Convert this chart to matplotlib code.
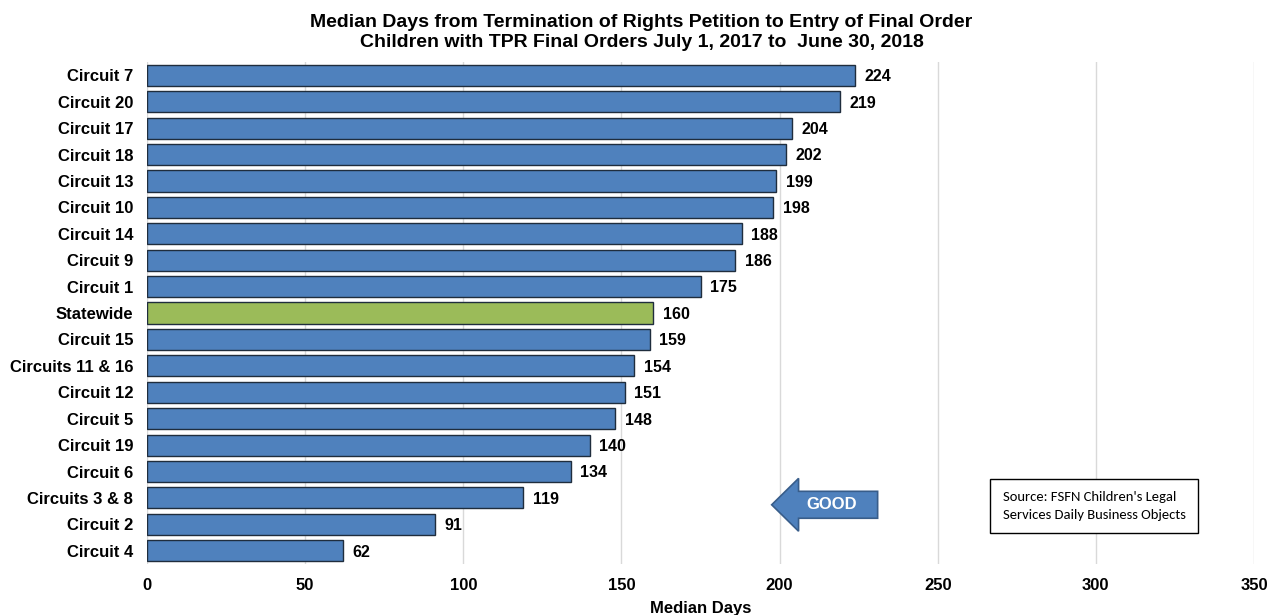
import matplotlib
matplotlib.use("Agg")
import matplotlib.pyplot as plt
from matplotlib.patches import FancyArrow

# data (top to bottom)
circuits = ['Circuit 7', 'Circuit 20', 'Circuit 17', 'Circuit 18', 'Circuit 13',
            'Circuit 10', 'Circuit 14', 'Circuit 9', 'Circuit 1', 'Statewide',
            'Circuit 15', 'Circuits 11 & 16', 'Circuit 12', 'Circuit 5', 'Circuit 19',
            'Circuit 6', 'Circuits 3 & 8', 'Circuit 2', 'Circuit 4']
median_days = [224, 219, 204, 202, 199, 198, 188, 186, 175, 160,
               159, 154, 151, 148, 140, 134, 119, 91, 62]

blue = '#4F81BD'
green = '#9BBB59'
colors = [green if c == 'Statewide' else blue for c in circuits]

plt.rcParams['font.family'] = ['Liberation Sans', 'DejaVu Sans']

fig = plt.figure(figsize=(12.83, 6.15), dpi=100)
ax = fig.add_axes([0.1146, 0.083, 0.8628, 0.816])

y = list(range(len(circuits)))
ax.barh(y, median_days, height=0.8, color=colors, edgecolor='#1F2D3D', linewidth=1.0, zorder=3)
for yi, v in zip(y, median_days):
    ax.text(v + 3, yi + 0.05, str(v), va='center', ha='left', fontsize=11.5, fontweight='bold')

ax.set_ylim(len(circuits) - 0.5, -0.5)
ax.set_xlim(0, 350)
ax.set_xticks(range(0, 351, 50))
ax.set_yticks(y)
ax.set_yticklabels(circuits, fontsize=12, fontweight='bold')
for lab in ax.get_xticklabels():
    lab.set_fontsize(12)
    lab.set_fontweight('bold')
ax.tick_params(axis='y', length=0, pad=10)
ax.tick_params(axis='x', length=0, pad=10)
ax.grid(axis='x', color='#D9D9D9', linewidth=1, zorder=0)
for s in ax.spines.values():
    s.set_visible(False)
ax.set_xlabel('Median Days', fontsize=12, fontweight='bold', labelpad=6)

fig.suptitle('Median Days from Termination of Rights Petition to Entry of Final Order\n'
             'Children with TPR Final Orders July 1, 2017 to  June 30, 2018',
             x=0.5, y=0.978, fontsize=14, fontweight='bold', linespacing=1.3)

# GOOD arrow pointing left
arr = FancyArrow(231, 16.26, -33.5, 0, width=1.02, head_width=2.0, head_length=8.5,
                 length_includes_head=True, facecolor=blue, edgecolor='#385D8A',
                 linewidth=1.2, zorder=4)
ax.add_patch(arr)
ax.text(216.5, 16.26, 'GOOD', ha='center', va='center', color='white',
        fontsize=12, fontweight='bold', zorder=5)

# source note box
ax.text(270.5, 16.3, "Source: FSFN Children's Legal\nServices Daily Business Objects",
        ha='left', va='center', fontsize=10.5, linespacing=1.55,
        family=['Carlito', 'Open Sans', 'DejaVu Sans'],
        bbox=dict(boxstyle='square,pad=0.85', facecolor='white', edgecolor='black', linewidth=1),
        zorder=5)

fig.savefig('out.png', dpi=100)
